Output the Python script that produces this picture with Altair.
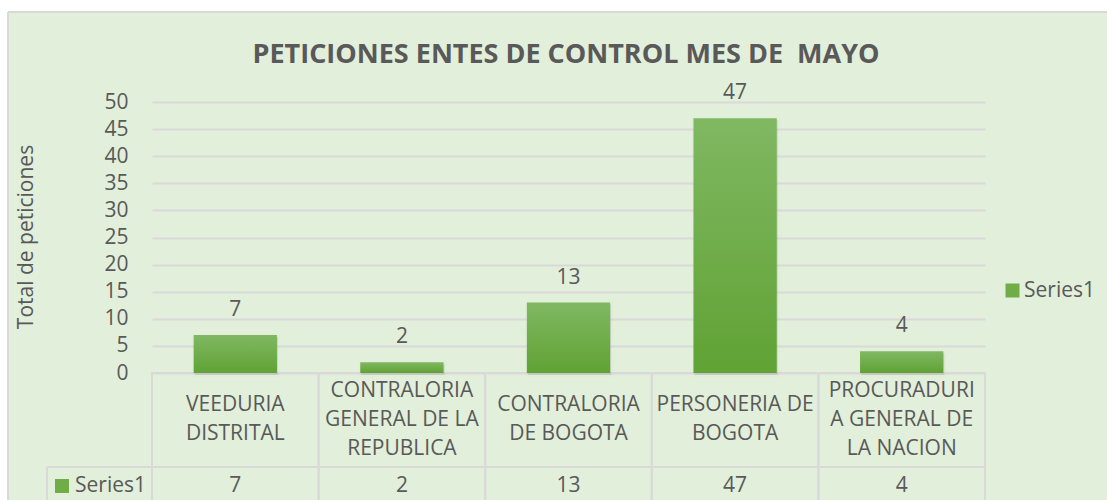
import altair as alt
import pandas as pd

# ---------------- data ----------------
categories = [
    "VEEDURIA DISTRITAL",
    "CONTRALORIA GENERAL DE LA REPUBLICA",
    "CONTRALORIA DE BOGOTA",
    "PERSONERIA DE BOGOTA",
    "PROCURADURIA GENERAL DE LA NACION",
]
header_labels = [
    "VEEDURIA\nDISTRITAL",
    "CONTRALORIA\nGENERAL DE LA\nREPUBLICA",
    "CONTRALORIA\nDE BOGOTA",
    "PERSONERIA DE\nBOGOTA",
    "PROCURADURI\nA GENERAL DE\nLA NACION",
]
values = [7, 2, 13, 47, 4]
series_name = "Series1"
y_ticks = [0, 5, 10, 15, 20, 25, 30, 35, 40, 45, 50]
title_text = "PETICIONES ENTES DE CONTROL MES DE \u00a0MAYO"
y_title = "Total de peticiones"

df = pd.DataFrame({"cat": categories, "header": header_labels,
                   "value": values, "series": series_name})
df_series = pd.DataFrame({"series": [series_name]})

# ---------------- styles ----------------
FONT = "Open Sans"
FS = 21
TXT = "#595959"
LINE = "#D9D9D9"
GREEN = "#70AD47"
W, H = 1099, 488

x_scale = alt.Scale(domain=categories, range=[144, 977],
                    paddingInner=0.5, paddingOuter=0.25)
y_scale = alt.Scale(domain=[0, 50], range=[361, 90], nice=False)
y_axis = alt.Axis(values=y_ticks, offset=-122, labelPadding=2,
                  tickSize=0, ticks=False, domain=False, title=None,
                  grid=True, gridColor=LINE, gridWidth=2,
                  labelFont=FONT, labelFontSize=FS, labelColor=TXT)
y_enc = alt.Y("value:Q", scale=y_scale, axis=y_axis)

base = alt.Chart(df).encode(
    x=alt.X("cat:N", scale=x_scale, sort=categories, axis=None)
)

# panel border (top and left edges)
border_top = alt.Chart(df_series).mark_rule(color=LINE, strokeWidth=2).encode(
    x=alt.value(0), x2=alt.value(W), y=alt.value(0))
border_left = alt.Chart(df_series).mark_rule(color=LINE, strokeWidth=2).encode(
    x=alt.value(0), y=alt.value(0), y2=alt.value(H))

# table cells
cells = base.mark_rect(width=alt.RelativeBandSize(2), fill="transparent",
                       stroke=LINE, strokeWidth=2).encode(
    y=alt.value(361), y2=alt.value(492))
sep = alt.Chart(df_series).mark_rule(color=LINE, strokeWidth=2).encode(
    x=alt.value(39), x2=alt.value(977), y=alt.value(455))
label_cell_left = alt.Chart(df_series).mark_rule(color=LINE, strokeWidth=2).encode(
    x=alt.value(39), y=alt.value(455), y2=alt.value(492))

shadow = base.mark_bar(color="black", opacity=0.10, stroke="black",
                       strokeOpacity=0.05, strokeWidth=5,
                       xOffset=1, yOffset=2).encode(y=y_enc)

bars = base.mark_bar(
    fill=alt.Gradient(
        gradient="linear",
        stops=[alt.GradientStop(color="#80B862", offset=0),
               alt.GradientStop(color="#60A234", offset=1)],
        x1=0, x2=0, y1=0, y2=1),
).encode(y=y_enc)

bar_labels = base.mark_text(font=FONT, fontSize=FS, color=TXT,
                            baseline="alphabetic", dy=-19).encode(
    y=y_enc, text=alt.Text("value:Q"))

header_base = base.transform_calculate(
    nlines="length(split(datum.header, '\\n'))")
header_2 = header_base.transform_filter("datum.nlines == 2").mark_text(
    font=FONT, fontSize=FS, color=TXT, lineBreak="\n", lineHeight=29,
    baseline="middle").encode(y=alt.value(393), text="header:N")
header_3 = header_base.transform_filter("datum.nlines == 3").mark_text(
    font=FONT, fontSize=FS, color=TXT, lineBreak="\n", lineHeight=29,
    baseline="middle").encode(y=alt.value(379), text="header:N")

value_text = base.mark_text(font=FONT, fontSize=FS, color=TXT,
                            baseline="middle").encode(
    y=alt.value(474), text=alt.Text("value:Q"))

row_square = alt.Chart(df_series).mark_square(size=196, opacity=1).encode(
    x=alt.value(54), y=alt.value(474),
    color=alt.Color("series:N", scale=alt.Scale(range=[GREEN]),
                    legend=alt.Legend(orient="none", legendX=994, legendY=268,
                                      title=None, symbolType="square",
                                      symbolSize=196, symbolStrokeWidth=0,
                                      symbolOpacity=1,
                                      labelFont=FONT, labelFontSize=FS,
                                      labelColor=TXT, labelOffset=1)))
row_label = alt.Chart(df_series).mark_text(font=FONT, fontSize=FS, color=TXT,
                                           align="left", baseline="middle").encode(
    x=alt.value(67), y=alt.value(474), text="series:N")

title = alt.Chart(pd.DataFrame({"t": [title_text]})).mark_text(
    font=FONT, fontSize=27, fontWeight="bold", color=TXT, baseline="middle"
).encode(x=alt.value(558), y=alt.value(43), text="t:N")

ytitle = alt.Chart(pd.DataFrame({"t": [y_title]})).mark_text(
    font=FONT, fontSize=FS, color=TXT, angle=270, baseline="middle"
).encode(x=alt.value(19), y=alt.value(225), text="t:N")

chart = alt.layer(
    border_top, border_left, cells, sep, label_cell_left,
    shadow, bars, bar_labels, header_2, header_3, value_text,
    row_square, row_label, title, ytitle,
).properties(
    width=W, height=H,
    autosize=alt.AutoSizeParams(type="none"),
    padding={"left": 8, "top": 12, "right": 0, "bottom": 0},
    background="white",
).configure(font=FONT).configure_view(fill="#E2EFDA", stroke=None)

chart.save("out.html", embed_options={"renderer": "svg", "actions": False})
